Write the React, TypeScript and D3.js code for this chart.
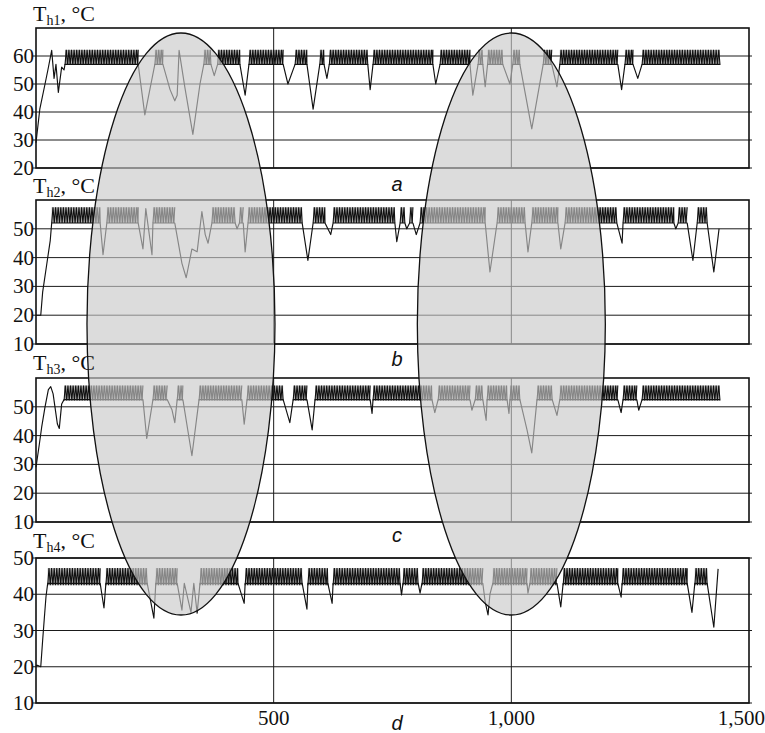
import React from "react";
import * as d3 from "d3";

const W = 765;
const H = 733;

// ---------- data (time, °C) ----------
const th1Trace: [number, number][] = [
  [0, 29], [8, 41], [19, 50], [25, 55], [33, 62], [38, 52], [42, 57], [47, 47], [54, 56], [59, 55], [61, 57],
  [215, 57], [229, 39], [250, 57],
  [267, 57], [282, 48], [292, 44], [297, 46], [301, 62], [313, 49], [330, 32], [345, 50], [353, 57],
  [368, 57], [375, 53], [382, 57],
  [429, 57], [440, 46], [448, 57],
  [520, 57], [530, 50], [545, 57],
  [570, 57], [583, 41], [597, 57],
  [606, 57], [612, 52], [617, 57],
  [698, 57], [703, 48], [709, 57],
  [835, 57], [841, 50], [850, 57],
  [913, 57], [919, 46], [930, 57],
  [940, 57], [945, 49], [950, 57],
  [982, 57], [997, 50], [1003, 57],
  [1018, 57], [1043, 34], [1067, 57],
  [1085, 57], [1096, 49], [1102, 57],
  [1224, 57], [1232, 48], [1239, 57],
  [1256, 57], [1266, 52], [1275, 57],
  [1439, 57],
];
const th1Bands: [number, number][] = [
  [61, 215], [250, 267], [353, 368], [382, 429], [448, 520], [545, 570], [597, 606], [617, 698],
  [709, 835], [850, 913], [930, 940], [950, 982], [1003, 1018], [1067, 1085], [1102, 1224],
  [1239, 1256], [1275, 1439],
];
const th1Band = [56.8, 62.2];

const th2Trace: [number, number][] = [
  [0, 20], [10, 20], [14, 28], [22, 37], [30, 46], [33, 52],
  [135, 52], [141, 41], [149, 52],
  [215, 52], [225, 43], [231, 57], [244, 41], [246, 52],
  [292, 52], [307, 38], [316, 33], [328, 43], [339, 42], [349, 56], [356, 48], [362, 45], [370, 52],
  [419, 52], [423, 50], [428, 52], [436, 52], [440, 42], [446, 52],
  [560, 52], [572, 39], [583, 52],
  [608, 52], [620, 48], [625, 52],
  [755, 52], [759, 45.5], [766, 52],
  [776, 52], [780, 50], [786, 52],
  [793, 52], [800, 48], [808, 52],
  [945, 52], [955, 35], [970, 52],
  [1029, 52], [1035, 42], [1043, 52],
  [1098, 52], [1104, 43], [1113, 52],
  [1222, 52], [1233, 45], [1235, 52],
  [1342, 52], [1346, 50], [1351, 52],
  [1370, 52], [1382, 39], [1391, 52],
  [1412, 52], [1426, 35], [1437, 50],
];
const th2Bands: [number, number][] = [
  [33, 135], [149, 215], [246, 292], [370, 419], [428, 436], [446, 560], [583, 608], [625, 755],
  [766, 776], [786, 793], [808, 945], [970, 1029], [1043, 1098], [1113, 1222], [1235, 1342],
  [1351, 1370], [1391, 1412],
];
const th2Band = [52, 57.5];

const th3Trace: [number, number][] = [
  [0, 29], [7, 37], [12, 43], [19, 50], [26, 56], [31, 57], [36, 54.5], [45, 44], [49, 42.5], [54, 51], [59, 52.5],
  [225, 52.5], [233, 39], [246, 52.5],
  [276, 52.5], [286, 49], [292, 44.5], [297, 52.5],
  [309, 52.5], [328, 33], [343, 52.5],
  [433, 52.5], [438, 44], [444, 52.5],
  [520, 52.5], [534, 44.5], [541, 52.5],
  [570, 52.5], [581, 42], [587, 52.5],
  [703, 52.5], [707, 47.7], [709, 52.5],
  [833, 52.5], [839, 48], [846, 52.5],
  [913, 52.5], [917, 48.8], [924, 52.5],
  [940, 52.5], [947, 45.3], [949, 52.5],
  [991, 52.5], [995, 47.7], [997, 52.5],
  [1018, 52.5], [1033, 42], [1043, 34], [1054, 52.5],
  [1086, 52.5], [1096, 47], [1102, 52.5],
  [1224, 52.5], [1231, 48], [1235, 52.5],
  [1264, 52.5], [1268, 48.8], [1275, 52.5],
  [1439, 52.5],
];
const th3Bands: [number, number][] = [
  [59, 225], [246, 276], [297, 309], [343, 433], [444, 520], [541, 570], [587, 703], [709, 833],
  [846, 913], [924, 940], [949, 991], [997, 1018], [1054, 1086], [1102, 1224], [1235, 1264],
  [1275, 1439],
];
const th3Band = [52.2, 57.4];

const th4Trace: [number, number][] = [
  [0, 20.4], [3, 20.4], [10, 20], [14, 27.3], [17.5, 33.4], [21, 39.3], [24.6, 43],
  [135, 43], [143, 36.2], [147, 43],
  [234, 43], [248, 33.4], [252, 43],
  [297, 43], [307, 35.6], [312, 43], [326, 35], [332, 43], [339, 34.8], [345, 43],
  [425, 43], [438, 37.5], [440, 43],
  [560, 43], [570, 35.9], [572, 43],
  [614, 43], [623, 37.5], [625, 43],
  [766, 43], [769, 39.8], [772, 43],
  [804, 43], [808, 40.3], [812, 43],
  [940, 43], [945, 37.9], [951, 34.3], [955, 40], [961, 43],
  [1033, 43], [1035, 40.3], [1039, 43],
  [1096, 43], [1104, 36.5], [1109, 43],
  [1224, 43], [1231, 39.2], [1233, 43],
  [1370, 43], [1380, 35], [1386, 43],
  [1412, 43], [1426, 30.9], [1435, 47],
];
const th4Bands: [number, number][] = [
  [24.6, 135], [147, 234], [252, 297], [345, 425], [440, 560], [572, 614], [625, 766], [772, 804],
  [812, 940], [961, 1033], [1039, 1096], [1109, 1224], [1233, 1370], [1386, 1412],
];
const th4Band = [42.5, 47.2];

const xTickValues = [500, 1000, 1500];
const xTickLabels = ["500", "1,000", "1,500"];
const panelLetters = ["a", "b", "c", "d"];
const panelSubs = ["h1", "h2", "h3", "h4"];
const yDomains = [[20, 70], [10, 60], [10, 60], [10, 50]];
const yTicks = [[20, 30, 40, 50, 60], [10, 20, 30, 40, 50], [10, 20, 30, 40, 50], [10, 20, 30, 40, 50]];
const highlightTimes = [305, 1000];

// ---------- layout ----------
const X0 = 36;
const X1 = 749;
const tops = [28, 200, 378, 558];
const bottoms = [168, 344, 522, 703];
const titleY = [21, 193, 370, 548];
const letterY = [191, 366, 542, 730];

const traces = [th1Trace, th2Trace, th3Trace, th4Trace];
const bandsAll = [th1Bands, th2Bands, th3Bands, th4Bands];
const bandLevels = [th1Band, th2Band, th3Band, th4Band];

const SERIF = "Liberation Serif";
const SANS = "Liberation Sans";

// hatching texture for an oscillation band between pixel x0..x1, yTop..yBot
function zigzag(x0: number, x1: number, yTop: number, yBot: number, step: number): string {
  let s = `M${x0},${yBot}`;
  let top = true;
  for (let px = x0 + step; px < x1; px += step) {
    s += `L${px.toFixed(2)},${top ? yTop : yBot}`;
    top = !top;
  }
  s += `L${x1},${top ? yTop : yBot}`;
  return s;
}

export default function App() {
  const x = d3.scaleLinear().domain([0, 1500]).range([X0, X1]);
  const halfPeriod = 1.3;

  const panels = traces.map((trace, i) => {
    const y = d3.scaleLinear().domain(yDomains[i]).range([bottoms[i], tops[i]]);
    const line = d3
      .line<[number, number]>()
      .x((d) => x(d[0]))
      .y((d) => y(d[1]));
    const yHi = y(bandLevels[i][1]);
    const yLo = y(bandLevels[i][0]);
    const bandPath = bandsAll[i]
      .map(([t0, t1]) => zigzag(x(t0), x(t1), yHi, yLo, halfPeriod))
      .join(" ");
    return { i, y, d: line(trace) || "", bandPath, yHi, yLo };
  });

  return (
    <svg
      width={W}
      height={H}
      style={{ position: "absolute", left: 0, top: 0, background: "#fff" }}
    >
      <rect x={0} y={0} width={W} height={H} fill="#fff" />
      {panels.map((p) => (
        <g key={p.i}>
          {yTicks[p.i].map((v) => (
            <line key={v} x1={X0 - 3} x2={X1 + 3} y1={p.y(v)} y2={p.y(v)} stroke="#1a1a1a" strokeWidth={1} />
          ))}
          {xTickValues.slice(0, 2).map((v) => (
            <line key={v} x1={x(v)} x2={x(v)} y1={tops[p.i]} y2={bottoms[p.i]} stroke="#1a1a1a" strokeWidth={1} />
          ))}
          {bandsAll[p.i].map(([t0, t1], k) => (
            <rect
              key={k}
              x={x(t0)}
              y={p.yHi}
              width={x(t1) - x(t0)}
              height={p.yLo - p.yHi}
              fill="#555"
              fillOpacity={0.45}
            />
          ))}
          <path d={p.d} fill="none" stroke="#111" strokeWidth={1.15} strokeLinejoin="round" />
          <path d={p.bandPath} fill="none" stroke="#111" strokeWidth={1.1} strokeLinejoin="miter" />
          <rect
            x={X0}
            y={tops[p.i]}
            width={X1 - X0}
            height={bottoms[p.i] - tops[p.i]}
            fill="none"
            stroke="#111"
            strokeWidth={1.6}
          />
        </g>
      ))}

      {highlightTimes.map((t) => (
        <ellipse
          key={t}
          cx={x(t)}
          cy={324}
          rx={94}
          ry={291}
          fill="rgb(200,200,200)"
          fillOpacity={0.64}
          stroke="#111"
          strokeWidth={1.3}
        />
      ))}

      {panels.map((p) => (
        <g key={`t${p.i}`}>
          <text x={33} y={titleY[p.i]} fontSize={22} fontFamily={SERIF} fill="#111">
            T
            <tspan fontSize={14} dy={4}>
              {panelSubs[p.i]}
            </tspan>
            <tspan dy={-4}>, °C</tspan>
          </text>
          {yTicks[p.i].map((v) => (
            <text key={v} x={34} y={p.y(v) + 7} fontSize={21} fontFamily={SERIF} textAnchor="end" fill="#111">
              {v}
            </text>
          ))}
          <text
            x={397}
            y={letterY[p.i]}
            fontSize={20}
            fontStyle="italic"
            fontFamily={SANS}
            textAnchor="middle"
            fill="#111"
          >
            {panelLetters[p.i]}
          </text>
        </g>
      ))}
      {xTickValues.map((v, k) => (
        <text
          key={v}
          x={k === xTickValues.length - 1 ? x(v) + 16 : x(v)}
          y={725}
          fontSize={21}
          fontFamily={SERIF}
          textAnchor={k === xTickValues.length - 1 ? "end" : "middle"}
          fill="#111"
        >
          {xTickLabels[k]}
        </text>
      ))}
    </svg>
  );
}
